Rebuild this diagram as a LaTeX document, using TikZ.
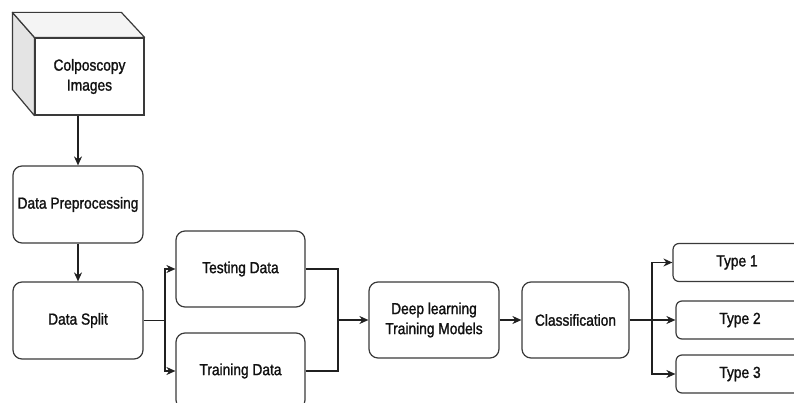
\documentclass[tikz,border=0pt]{standalone}
\usepackage{fontspec}
\setmainfont[FakeStretch=0.86, FakeBold=1.3]{Liberation Sans}
\usetikzlibrary{arrows.meta}
\definecolor{boxline}{HTML}{3A3A3A}
\definecolor{linkc}{HTML}{202020}
\definecolor{sideface}{HTML}{E4E4E4}
\definecolor{topface}{HTML}{F4F4F4}
\definecolor{txt}{HTML}{111111}

\begin{document}
\begin{tikzpicture}[x=1pt,y=-1pt,
  box/.style={draw=boxline, line width=1.2pt, rounded corners=9pt, fill=white,
    align=center, inner sep=0pt, text=txt, font=\fontsize{16}{20}\selectfont},
  typebox/.style={box, rounded corners=6pt, minimum width=128pt, minimum height=38pt},
  link/.style={draw=linkc, line width=1.3pt},
  arr/.style={link, -{Stealth[length=9pt,width=8pt]}}]
\useasboundingbox (0,0) rectangle (794,403);

% input images, drawn as a cube
\node[box, rounded corners=0pt, minimum width=109pt, minimum height=77pt] (img) at (89.5,76.5) {Colposcopy\\Images};
\filldraw[fill=sideface, draw=boxline, line width=1.2pt, line join=round]
  (img.north west) -- ++(-22,-25) -- ++(0,77) -- (img.south west) -- cycle;
\filldraw[fill=topface, draw=boxline, line width=1.2pt, line join=round]
  (img.north west) -- ++(-22,-25) -- ++(109,0) -- (img.north east) -- cycle;

% processing steps
\node[box, minimum width=130pt, minimum height=77pt] (dp) at (78,204.5) {Data Preprocessing};
\node[box, minimum width=130pt, minimum height=77pt] (ds) at (78,320.5) {Data Split};
\node[box, minimum width=129pt, minimum height=76pt] (test) at (240.5,269) {Testing Data};
\node[box, minimum width=129pt, minimum height=76pt] (train) at (240.5,371) {Training Data};
\node[box, minimum width=130pt, minimum height=76pt] (dl) at (434,320) {Deep learning\\Training Models};
\node[box, minimum width=107pt, minimum height=76pt] (cls) at (575.5,320) {Classification};

% output classes
\node[typebox] (t1) at (737,262.5) {Type 1};
\node[typebox] (t2) at (740,320) {Type 2};
\node[typebox] (t3) at (740,374) {Type 3};

% junction points
\coordinate (split) at (165,320.5);
\coordinate (merge) at (338,320);
\coordinate (fan) at (652,320);

% connectors
\draw[arr] (img.south -| 78,0) -- (dp.north);
\draw[arr] (dp.south) -- (ds.north);
\draw[link] (ds.east) -- (split);
\draw[arr] (split) |- (test.west);
\draw[arr] (split) |- (train.west);
\draw[link] (test.east) -| (merge);
\draw[link] (train.east) -| (merge);
\draw[arr] (merge) -- (dl.west);
\draw[arr] (dl.east) -- (cls.west);
\draw[link, line width=2pt] (cls.east) -- (fan);
\draw[arr] (fan) |- (t1.west);
\draw[arr] (fan) -- (t2.west);
\draw[arr] (fan) |- (t3.west);
\end{tikzpicture}
\end{document}
